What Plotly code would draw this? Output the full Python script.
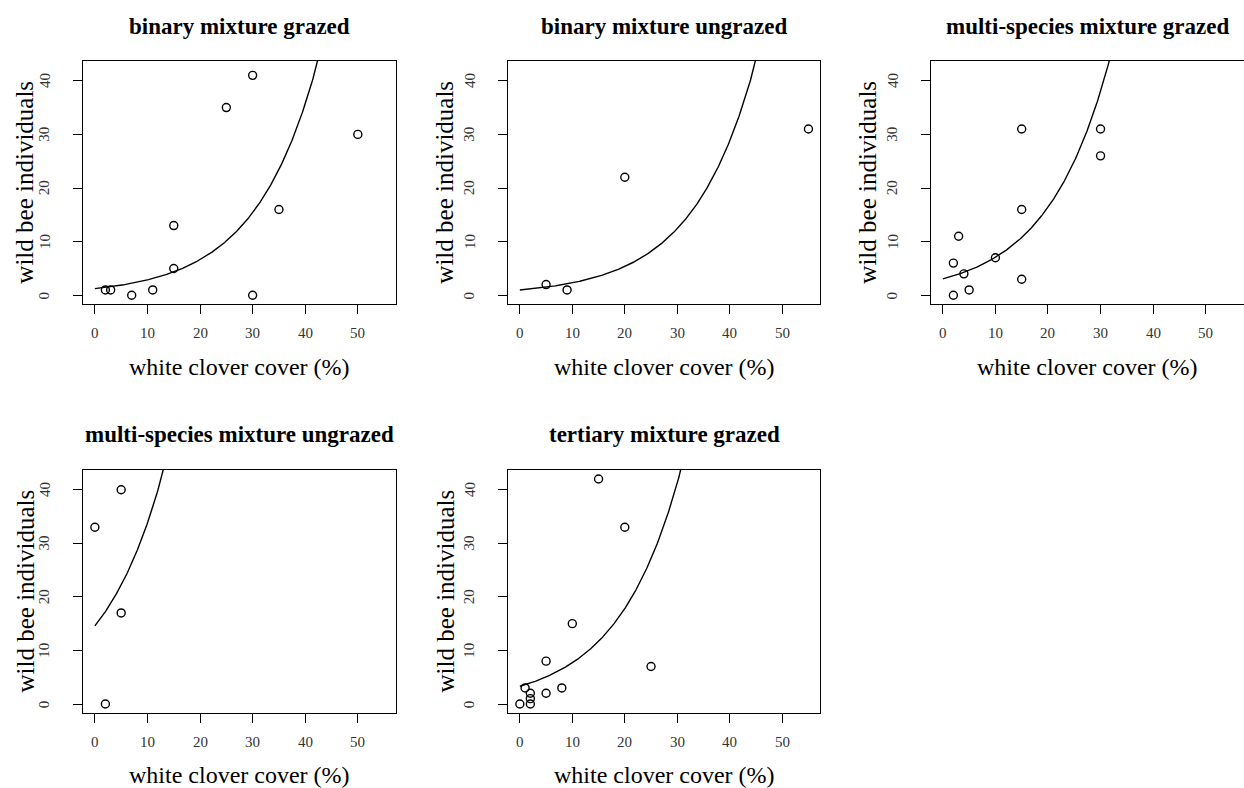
import numpy as np
import plotly.graph_objects as go

W, H = 1244, 788

# ---- data ----
panel_titles = ["binary mixture grazed", "binary mixture ungrazed",
                "multi-species mixture grazed", "multi-species mixture ungrazed",
                "tertiary mixture grazed"]

bmg_cover = [2, 3, 7, 11, 15, 15, 25, 30, 30, 35, 50]
bmg_bees = [1, 1, 0, 1, 13, 5, 35, 41, 0, 16, 30]

bmu_cover = [5, 9, 20, 55]
bmu_bees = [2, 1, 22, 31]

msg_cover = [2, 2, 3, 4, 5, 10, 15, 15, 15, 30, 30]
msg_bees = [0, 6, 11, 4, 1, 7, 31, 16, 3, 31, 26]

msu_cover = [0, 2, 5, 5]
msu_bees = [33, 0, 40, 17]

tmg_cover = [0, 1, 2, 2, 2, 5, 5, 8, 10, 15, 20, 25]
tmg_bees = [0, 3, 2, 1, 0, 2, 8, 3, 15, 42, 33, 7]

# fitted log-linear model (common slope, group-specific intercepts)
fit_intercept = [0.215, 0.0, 1.118, 2.68, 1.20]
fit_slope = 0.084

x_ticks = [0, 10, 20, 30, 40, 50]
y_ticks = [0, 10, 20, 30, 40]
x_title = "white clover cover (%)"
y_title = "wild bee individuals"

covers = [bmg_cover, bmu_cover, msg_cover, msu_cover, tmg_cover]
bees = [bmg_bees, bmu_bees, msg_bees, msu_bees, tmg_bees]

# ---- layout geometry (pixels) ----
col_px = [(83.3, 395.7), (508.3, 820.0), (931.3, 1243.5)]
row_px = [(61.0, 304.3), (470.0, 713.0)]
ytitle_x = [25, 445, 868]
title_y = [27, 435]
xtitle_y = [367, 775]
xtick_gap = 29      # px from box bottom to x tick label centre
ytick_gap = 39      # anchor offset for rotated y tick labels

fig = go.Figure()
serif = "Liberation Serif, Times New Roman, serif"
tickfont = dict(family=serif, size=15, color="#333333")
grid = np.linspace(0, 55, 400)

annotations = []
for i in range(5):
    r, c = divmod(i, 3)
    n = i + 1
    xa = "x" if n == 1 else f"x{n}"
    ya = "y" if n == 1 else f"y{n}"
    fig.add_trace(go.Scatter(
        x=covers[i], y=bees[i], mode="markers", xaxis=xa, yaxis=ya,
        marker=dict(symbol="circle-open", size=8, color="black",
                    line=dict(width=1.4, color="black")),
        showlegend=False, hoverinfo="x+y"))
    fig.add_trace(go.Scatter(
        x=grid, y=np.exp(fit_intercept[i] + fit_slope * grid), mode="lines",
        xaxis=xa, yaxis=ya, line=dict(color="black", width=1.4),
        showlegend=False, hoverinfo="skip"))
    x0, x1 = col_px[c]
    t, b = row_px[r]
    axcommon = dict(showline=True, mirror=True, linecolor="black", linewidth=1.3,
                    ticks="outside", ticklen=9, tickwidth=1.3, tickcolor="black",
                    showgrid=False, zeroline=False, showticklabels=False)
    fig.layout[("xaxis" if n == 1 else f"xaxis{n}")] = dict(
        axcommon, domain=[x0 / W, x1 / W], range=[-2.2, 57.2],
        tickvals=x_ticks, anchor=ya)
    fig.layout[("yaxis" if n == 1 else f"yaxis{n}")] = dict(
        axcommon, domain=[1 - b / H, 1 - t / H], range=[-1.68, 43.68],
        tickvals=y_ticks, anchor=xa)
    # tick labels placed on the axes' own scales
    for v in x_ticks:
        annotations.append(dict(text=str(v), x=v, xref=xa, y=1 - (b + xtick_gap) / H,
                                yref="paper", showarrow=False, xanchor="center",
                                yanchor="middle", font=tickfont))
    for v in y_ticks:
        annotations.append(dict(text=str(v), y=v, yref=ya, x=(x0 - ytick_gap) / W,
                                xref="paper", showarrow=False, xanchor="center",
                                yanchor="middle", textangle=-90, font=tickfont))
    cx = (x0 + x1) / 2
    cy = (t + b) / 2
    annotations.append(dict(text=f"<b>{panel_titles[i]}</b>", x=cx / W, y=1 - title_y[r] / H,
                            xref="paper", yref="paper", showarrow=False,
                            xanchor="center", yanchor="middle",
                            font=dict(family=serif, size=23, color="black")))
    annotations.append(dict(text=x_title, x=cx / W, y=1 - xtitle_y[r] / H,
                            xref="paper", yref="paper", showarrow=False,
                            xanchor="center", yanchor="middle",
                            font=dict(family=serif, size=24, color="black")))
    annotations.append(dict(text=y_title, x=ytitle_x[c] / W, y=1 - cy / H,
                            xref="paper", yref="paper", showarrow=False,
                            xanchor="center", yanchor="middle", textangle=-90,
                            font=dict(family=serif, size=25, color="black")))

fig.update_layout(width=W, height=H, margin=dict(l=0, r=0, t=0, b=0),
                  paper_bgcolor="white", plot_bgcolor="white",
                  annotations=annotations, showlegend=False)

fig.write_html("out.html", config={"displayModeBar": False},
               post_script="document.body.style.margin='0';"
                           "document.body.style.padding='0';"
                           "document.body.style.overflow='hidden';")
